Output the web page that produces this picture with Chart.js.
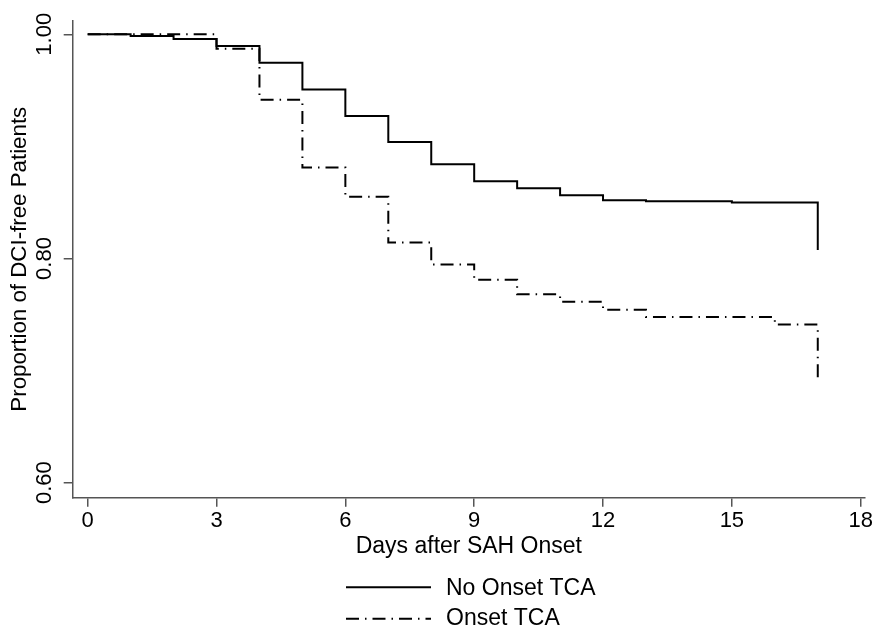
<!DOCTYPE html>
<html><head><meta charset="utf-8">
<script src="https://cdn.jsdelivr.net/npm/chart.js@4/dist/chart.umd.min.js"></script>
<style>html,body{margin:0;padding:0;background:#fff;overflow:hidden}#c{display:block}</style>
</head><body>
<canvas id="c" width="876" height="629"></canvas>
<script>
// ---- data (Kaplan-Meier step curves) ----
const seriesNames = ['No Onset TCA', 'Onset TCA'];
const noOnsetDays = [0, 1, 2, 3, 4, 5, 6, 7, 8, 9, 10, 11, 12, 13, 15, 17, 17];
const noOnsetSurv = [1.000, 0.9985, 0.9958, 0.9896, 0.9747, 0.9507, 0.9272, 0.904, 0.884, 0.869, 0.8627, 0.8565, 0.852, 0.851, 0.850, 0.850, 0.8075];
const onsetDays = [0, 3, 4, 5, 6, 7, 8, 9, 10, 11, 12, 13, 16, 17, 17];
const onsetSurv = [1.000, 0.9872, 0.9415, 0.8812, 0.855, 0.8143, 0.7947, 0.781, 0.768, 0.7614, 0.7543, 0.7478, 0.741, 0.741, 0.6896];
const xTicks = [0, 3, 6, 9, 12, 15, 18];
const yTicks = [0.60, 0.80, 1.00];
const xTitle = 'Days after SAH Onset';
const yTitle = 'Proportion of DCI-free Patients';

const FONT = '"Liberation Sans", Arial, Helvetica, sans-serif';
Chart.defaults.font.family = FONT;
Chart.defaults.color = '#000';

const toPts = (xs, ys) => xs.map((x, i) => ({x: x, y: ys[i]}));
const AXIS = '#555';

const legendPlugin = {
  id: 'kmLegend',
  afterDraw(chart) {
    const ctx = chart.ctx;
    const rows = [{line: 587.3, text: 589}, {line: 618.8, text: 618.4}];
    chart.data.datasets.forEach((ds, i) => {
      const r = rows[i];
      ctx.save();
      ctx.strokeStyle = ds.borderColor;
      ctx.lineWidth = ds.borderWidth;
      ctx.setLineDash(ds.borderDash || []);
      ctx.beginPath();
      ctx.moveTo(346, r.line);
      ctx.lineTo(431, r.line);
      ctx.stroke();
      ctx.setLineDash([]);
      ctx.fillStyle = '#000';
      ctx.font = '23px ' + FONT;
      ctx.textBaseline = 'middle';
      ctx.textAlign = 'left';
      ctx.fillText(ds.label, 446, r.text);
      ctx.restore();
    });
  }
};

new Chart(document.getElementById('c'), {
  type: 'line',
  data: {
    datasets: [
      {label: seriesNames[0], data: toPts(noOnsetDays, noOnsetSurv), borderColor: '#000', borderWidth: 2,
       stepped: true, pointRadius: 0, fill: false},
      {label: seriesNames[1], data: toPts(onsetDays, onsetSurv), borderColor: '#000', borderWidth: 2,
       borderDash: [13, 6, 1.5, 6], stepped: true, pointRadius: 0, fill: false}
    ]
  },
  options: {
    responsive: false,
    animation: false,
    layout: {padding: {top: 20.7, right: 9.5, left: 0, bottom: 0}},
    plugins: {legend: {display: false}, tooltip: {enabled: false}},
    scales: {
      x: {
        type: 'linear', min: -0.3486, max: 18.099,
        afterBuildTicks: s => { s.ticks = xTicks.map(v => ({value: v})); },
        afterFit: s => { s.height = 131.3; },
        ticks: {color: '#000', font: {size: 22, lineHeight: 1}, padding: 3, minRotation: 0, maxRotation: 0,
                autoSkip: false, callback: v => String(v)},
        grid: {display: true, drawOnChartArea: false, drawTicks: true, tickLength: 9, color: AXIS, lineWidth: 1.5},
        border: {display: true, color: AXIS, width: 1.5},
        title: {display: true, text: xTitle, color: '#000', font: {size: 23, lineHeight: 1.2}, padding: {top: 0, bottom: 68.4}}
      },
      y: {
        type: 'linear', min: 0.5866, max: 1.01213,
        afterBuildTicks: s => { s.ticks = yTicks.map(v => ({value: v})); },
        afterFit: s => { s.width = 72.7; },
        ticks: {color: '#000', font: {size: 22, lineHeight: 1}, padding: -3, minRotation: 90, maxRotation: 90,
                crossAlign: 'center', autoSkip: false, callback: v => Number(v).toFixed(2)},
        grid: {display: true, drawOnChartArea: false, drawTicks: true, tickLength: 9, color: AXIS, lineWidth: 1.5},
        border: {display: true, color: AXIS, width: 1.5},
        title: {display: true, text: yTitle, color: '#000', font: {size: 22.3, lineHeight: 1.2}, padding: {top: 6.3, bottom: 0}}
      }
    }
  },
  plugins: [legendPlugin]
});
</script>
</body></html>
